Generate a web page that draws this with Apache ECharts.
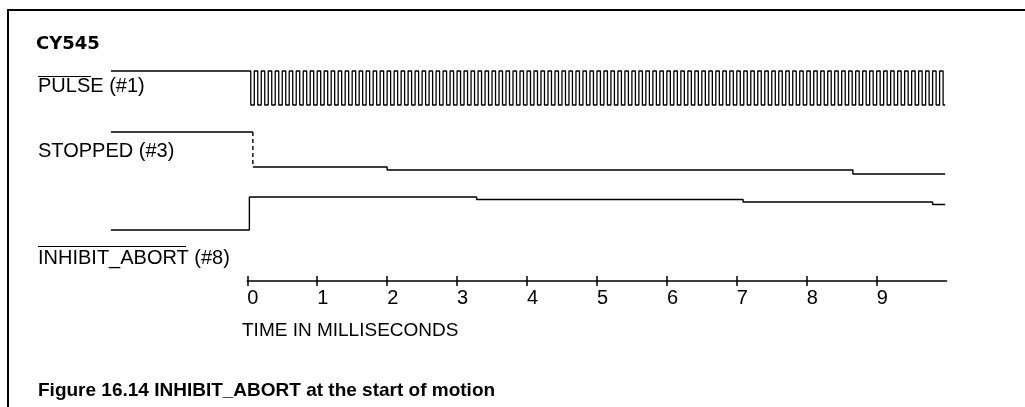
<!DOCTYPE html>
<html><head><meta charset="utf-8">
<script src="https://cdn.jsdelivr.net/npm/echarts@6/dist/echarts.min.js"></script>
<style>html,body{margin:0;padding:0;background:#fff}#c{width:1025px;height:407px}</style>
</head><body><div id="c"></div>
<script>
// ---- data ----
const tickLabels = [0, 1, 2, 3, 4, 5, 6, 7, 8, 9];
const signalNames = ['PULSE (#1)', 'STOPPED (#3)', 'INHIBIT_ABORT (#8)'];
// PULSE (#1): level before motion, then pulse train sampled in 0.05 ms slots
const pulseLevels = [21.0, 17.6];            // [high, low]
const pulseStart = [-1.95, 0.0];             // trace start, first slot time
const pulseSlotMs = [0.05];
const pulseBits =
  "1010101010" + "1010101010" + "1010101010" + "1010101010" +
  "1010101010" + "1010101010" + "1010101010" + "1010101010" +
  "1010101010" + "1010101010" + "1010101010" + "1010101010" +
  "1010101010" + "1010101010" + "1010101010" + "1010101010" +
  "1010101010" + "1010101010" + "1010101010" + "1010101010";
const pulseEnd = [9.98];
// STOPPED (#3): [time ms, level]; the first transition (the fall) is drawn dashed
const stoppedSteps = [[-1.95, 14.9], [0.08, 11.4], [2.0, 11.1], [8.66, 10.7], [9.98, 10.7]];
// INHIBIT_ABORT (#8): [time ms, level]
const inhibitSteps = [[-1.95, 5.1], [0.03, 8.4], [3.28, 8.15], [7.09, 7.9], [9.8, 7.65], [9.98, 7.65]];

// ---- build ----
const pulseData = [[pulseStart[0], pulseLevels[0]]];
for (let i = 0; i < pulseBits.length; i++) {
  pulseData.push([pulseStart[1] + i * pulseSlotMs[0], pulseBits[i] === '1' ? pulseLevels[0] : pulseLevels[1]]);
}
pulseData.push([pulseEnd[0], pulseBits[pulseBits.length - 1] === '1' ? pulseLevels[0] : pulseLevels[1]]);

// STOPPED: solid high part, gap, solid low part; dashed falling edge
const s0 = stoppedSteps[0], s1 = stoppedSteps[1];
const stoppedSolid = [s0, [s1[0], s0[1]], null].concat(stoppedSteps.slice(1));
const stoppedEdge = [[s1[0], s0[1]], [s1[0], s1[1]]];

const chart = echarts.init(document.getElementById('c'), null, {renderer: 'canvas'});
const lineBase = {type: 'line', step: 'end', symbol: 'none', silent: true,
  xAxisIndex: 0, yAxisIndex: 0, lineStyle: {color: '#000', width: 1.4}};
const F = '"Liberation Sans", Arial, sans-serif';
const visAxis = {type: 'value', min: 0, max: 10, interval: 1, position: 'bottom', gridIndex: 1,
  splitLine: {show: false}};
chart.setOption({
  animation: false,
  backgroundColor: '#fff',
  grid: [
    {left: 107.4, right: 78.4, top: 61, bottom: 126},
    {left: 247.3, right: 78.4, top: 61, bottom: 126}
  ],
  xAxis: [
    {type: 'value', min: -2, max: 10, show: false, gridIndex: 0},
    Object.assign({}, visAxis, {
      axisLine: {show: true, lineStyle: {color: '#000', width: 1.5}},
      axisTick: {show: true, inside: false, length: 5, lineStyle: {color: '#000', width: 1.5}, customValues: tickLabels},
      axisLabel: {show: true, customValues: tickLabels, color: '#000', fontSize: 20, fontFamily: F, align: 'left', margin: 7}
    }),
    Object.assign({}, visAxis, {
      axisLine: {show: false},
      axisTick: {show: true, inside: true, length: 5, lineStyle: {color: '#000', width: 1.5}, customValues: tickLabels},
      axisLabel: {show: false}
    })
  ],
  yAxis: [
    {type: 'value', min: 0, max: 22, show: false, gridIndex: 0},
    {type: 'value', min: 0, max: 22, show: false, gridIndex: 1}
  ],
  series: [
    Object.assign({}, lineBase, {name: signalNames[0], data: pulseData, lineStyle: {color: '#000', width: 1.3}}),
    Object.assign({}, lineBase, {name: signalNames[1], data: stoppedSolid, connectNulls: false}),
    Object.assign({}, lineBase, {name: signalNames[1] + ' edge', step: false, data: stoppedEdge,
      lineStyle: {color: '#000', width: 1.4, type: [4, 3]}}),
    Object.assign({}, lineBase, {name: signalNames[2], data: inhibitSteps})
  ],
  graphic: [
    {type: 'rect', shape: {x: 8, y: 10, width: 1100, height: 500}, style: {fill: 'none', stroke: '#000', lineWidth: 2}, silent: true},
    {type: 'text', x: 36, y: 44, style: {text: 'CY545', font: 'bold 18px "DejaVu Sans", sans-serif', fill: '#000', align: 'left', verticalAlign: 'middle'}},
    {type: 'text', x: 38, y: 86, style: {text: signalNames[0], font: '20px ' + F, fill: '#000', align: 'left', verticalAlign: 'middle'}},
    {type: 'line', shape: {x1: 38, y1: 76.5, x2: 91, y2: 76.5}, style: {stroke: '#000', lineWidth: 1}},
    {type: 'text', x: 38, y: 151, style: {text: signalNames[1], font: '20px ' + F, fill: '#000', align: 'left', verticalAlign: 'middle'}},
    {type: 'text', x: 38, y: 258, style: {text: signalNames[2], font: '20px ' + F, fill: '#000', align: 'left', verticalAlign: 'middle'}},
    {type: 'line', shape: {x1: 38, y1: 246.5, x2: 186, y2: 246.5}, style: {stroke: '#000', lineWidth: 1}},
    {type: 'text', x: 242, y: 331, style: {text: 'TIME IN MILLISECONDS', font: '19px ' + F, fill: '#000', align: 'left', verticalAlign: 'middle'}},
    {type: 'text', x: 38, y: 391, style: {text: 'Figure 16.14 INHIBIT_ABORT at the start of motion', font: 'bold 19px ' + F, fill: '#000', align: 'left', verticalAlign: 'middle'}}
  ]
});
</script></body></html>
